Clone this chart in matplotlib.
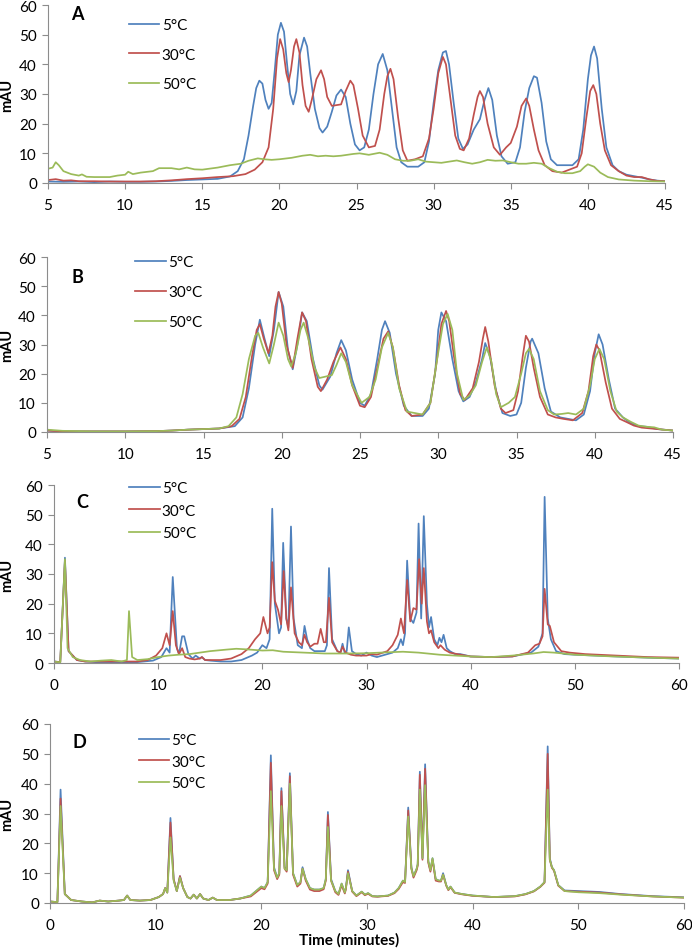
import numpy as np
import matplotlib
matplotlib.use("Agg")
import matplotlib.pyplot as plt

# ---- digitised traces (time in minutes, absorbance in mAU) ----
# panel A
A_5C = [(5,0.5),(6,0.4),(7,0.5),(8,0.3),(9,0.5),(10,0.4),(11,0.4),(12,0.5),(13,0.7),(14,1.0),(15,1.2),(16,1.4),
        (16.8,2.2),(17.3,4),(17.7,8),(18.0,16),(18.3,26),(18.5,32),(18.7,34.5),(18.9,33.5),(19.1,28),(19.3,25),
        (19.5,27),(19.7,38),(19.9,50),(20.1,54),(20.3,51),(20.5,40),(20.7,30),(20.9,26.5),(21.1,31),(21.3,43),
        (21.6,49),(21.8,46),(22.0,37),(22.3,25),(22.6,18.5),(22.8,17),(23.1,19),(23.4,24),(23.7,29.5),(24.0,31.5),
        (24.3,29),(24.6,20),(24.9,13),(25.2,11),(25.5,12),(25.8,18),(26.1,30),(26.4,40),(26.7,43.5),(27.0,38),
        (27.3,25),(27.6,12),(27.9,7),(28.3,5.5),(29.0,5.5),(29.4,7),(29.7,14),(30.0,27),(30.3,38),(30.6,44),
        (30.8,44.5),(31.0,40),(31.3,27),(31.6,15),(31.9,11.5),(32.2,13),(32.6,18),(33.0,21.5),(33.3,28),
        (33.55,32),(33.8,28),(34.1,16),(34.4,9),(34.8,6.5),(35.3,7),(35.6,12),(35.9,24),(36.2,32),(36.5,36),
        (36.7,35.5),(37.0,27),(37.3,14),(37.6,8),(38.0,6),(38.5,6),(39.0,6),(39.4,8),(39.7,18),(40.0,35),
        (40.2,43),(40.4,46),(40.6,42),(40.9,25),(41.2,12),(41.6,6),(42.0,4),(42.5,2.8),(43.0,2.3),(43.5,1.8),
        (44.0,1.2),(44.5,0.8),(45,0.6)]
A_30C = [(5,1.0),(5.5,1.3),(6,0.8),(6.5,0.9),(7,0.6),(8,0.6),(9,0.5),(10,0.5),(11,0.5),(12,0.6),(13,0.9),(14,1.3),
         (15,1.6),(16,2.0),(17,2.3),(17.8,3.0),(18.4,4.5),(18.9,7),(19.3,12),(19.6,25),(19.85,42),(20.05,48.5),
         (20.25,45),(20.45,37),(20.6,34),(20.75,38),(20.95,46),(21.1,48.5),(21.3,44),(21.5,33),(21.7,26),(21.9,24),
         (22.1,28),(22.4,35),(22.7,38),(22.9,35),(23.1,29),(23.4,26),(24.0,26.5),(24.3,31),(24.6,34.5),(24.8,33),
         (25.1,25),(25.4,16),(25.8,12),(26.2,12.5),(26.5,18),(26.8,30),(27.0,36),(27.2,38.5),(27.4,35),(27.7,22),
         (28.0,11),(28.3,7.5),(28.8,8),(29.3,9),(29.7,15),(30.0,25),(30.3,37),(30.6,42.5),(30.8,40),(31.1,28),
         (31.4,16),(31.7,11.5),(31.95,11),(32.3,15),(32.6,23),(32.85,29),(33.0,31),(33.2,29),(33.5,20),(33.9,12),
         (34.3,9.5),(34.7,12),(35.0,13.5),(35.4,19),(35.7,26),(36.0,28.5),(36.2,26),(36.5,18),(36.8,11),(37.2,6),
         (37.7,4),(38.3,3.5),(38.8,4.5),(39.3,5.5),(39.6,10),(39.9,22),(40.15,31),(40.35,33),(40.55,30),(40.8,20),
         (41.1,11),(41.5,6),(42.0,4),(42.5,2.5),(43.0,2.0),(43.5,2.0),(44.0,1.2),(44.5,0.7),(45,0.6)]
A_50C = [(5,4.8),(5.3,5.2),(5.5,7),(5.7,6),(6,4),(6.5,3),(7,2.5),(7.2,2.9),(7.5,2.1),(8,2.0),(9,2.0),(9.5,2.5),
         (10,2.8),(10.2,3.8),(10.5,3.0),(11,3.5),(11.8,4.0),(12.2,5.0),(13,5.0),(13.5,4.6),(14,5.2),(14.5,4.6),
         (15,4.5),(16,5.2),(16.8,6.0),(17.5,6.5),(18,7.5),(18.6,8.3),(19,8.0),(19.5,7.8),(20,8.0),(20.8,8.5),
         (21.5,9.2),(22,9.5),(22.5,9.0),(23,9.2),(23.5,9.0),(24,9.2),(24.8,9.8),(25.2,10.0),(25.8,9.5),(26.5,10.2),
         (27,9.5),(27.5,8.0),(28,7.5),(28.5,7.5),(29,8.0),(29.5,7.2),(30,7.0),(30.5,6.8),(31,7.2),(31.5,7.6),
         (32,7.0),(32.5,6.5),(33,7.0),(33.5,7.8),(34,7.5),(34.5,7.6),(35,7.0),(35.5,6.5),(36,6.5),(36.5,6.8),
         (37,6.5),(37.5,5.0),(38,3.8),(38.5,3.3),(39,3.3),(39.5,4.0),(39.8,5.5),(40,6.3),(40.4,5.5),(40.8,3.5),
         (41.3,2.0),(42,1.2),(43,0.8),(44,0.6),(45,0.5)]

# panel B
B_5C = [(5,0.5),(6,0.2),(8,0.2),(10,0.2),(12,0.3),(13,0.5),(14,0.8),(15,1.0),(16,1.2),(17,2.0),(17.5,5),(17.9,15),
        (18.3,30),(18.6,38.5),(18.9,32),(19.2,26),(19.5,35),(19.8,48),(20.1,43),(20.4,28),(20.7,21.5),(21.0,30),
        (21.3,41),(21.6,38),(22.0,25),(22.4,16),(22.6,14.5),(23.1,19),(23.5,27),(23.8,31.5),(24.1,28),(24.5,18),
        (25.0,10),(25.3,9),(25.7,13),(26.1,25),(26.4,35),(26.6,38),(26.9,34),(27.3,20),(27.8,9),(28.3,5.5),
        (29.0,5.5),(29.4,8),(29.8,20),(30.0,35),(30.2,41),(30.5,38),(30.9,25),(31.3,14),(31.6,10.5),(32.0,12),
        (32.4,17),(32.8,25),(33.0,30.5),(33.3,26),(33.7,14),(34.1,6.5),(34.6,5.5),(35.0,6),(35.3,10),(35.6,22),
        (35.9,31),(36.0,32),(36.4,27),(36.8,15),(37.2,7),(37.8,5),(38.3,4.5),(38.8,4),(39.3,6),(39.7,14),
        (40.0,27),(40.25,33.5),(40.5,30),(40.9,18),(41.3,8),(41.8,5),(42.3,3),(42.8,2),(43.3,1.8),(44,1.0),(45,0.5)]
B_30C = [(5,0.5),(6,0.2),(8,0.2),(10,0.2),(12,0.3),(13,0.5),(14,0.8),(15,1.0),(16,1.2),(16.8,2.0),(17.3,4.5),
         (17.7,12),(18.1,26),(18.4,35),(18.6,37),(18.85,32),(19.15,27),(19.4,33),(19.6,43),(19.8,48),(20.0,44),
         (20.3,30),(20.7,22),(21.0,32),(21.3,41),(21.55,38),(21.9,25),(22.3,15.5),(22.5,14),(22.9,18),(23.3,24),
         (23.75,29),(24.1,25),(24.5,16),(25.0,9),(25.3,8.5),(25.7,12),(26.1,22),(26.5,32),(26.8,34.5),(27.1,29),
         (27.5,16),(27.9,7.5),(28.3,5.5),(29.0,6),(29.5,10),(29.9,24),(30.2,37),(30.5,41.5),(30.7,38),(31.0,26),
         (31.4,13),(31.7,11),(32.2,15),(32.6,24),(32.85,32),(33.0,36),(33.2,31),(33.6,16),(34.0,8),(34.3,6.5),
         (34.8,7.5),(35.1,14),(35.4,26),(35.6,33),(35.8,31),(36.1,22),(36.5,12),(37.0,6),(37.5,5),(38.0,4.5),
         (38.6,4),(39.2,6.5),(39.6,14),(39.9,26),(40.1,30),(40.3,28),(40.7,17),(41.1,8),(41.6,4.5),(42.0,3.5),
         (42.5,2.2),(43.0,1.5),(44,1.0),(45,0.5)]
B_50C = [(5,0.8),(6,0.4),(8,0.2),(10,0.2),(12,0.3),(13,0.5),(14,0.8),(15,1.0),(16,1.2),(16.6,2.0),(17.1,5),
         (17.5,13),(17.9,25),(18.3,33),(18.5,34),(18.8,29),(19.2,23.5),(19.5,30),(19.8,37.5),(20.1,33),(20.4,25),
         (20.6,22.5),(20.9,27),(21.2,35),(21.4,37.5),(21.7,32),(22.1,22),(22.4,18.5),(22.8,19),(23.2,19.5),
         (23.5,23),(23.8,27),(24.1,24),(24.5,16),(25.1,10),(25.6,12),(26.0,18),(26.4,29),(26.8,34),(27.1,29),
         (27.5,15),(28.0,7),(28.5,6.5),(29.0,6),(29.5,10),(29.9,24),(30.3,37),(30.6,40.5),(30.9,35),(31.2,20),
         (31.6,11),(32.0,12.5),(32.4,16),(32.8,24),(33.1,29),(33.4,24),(33.7,13),(34.0,8.5),(34.5,10),(34.9,12),
         (35.3,20),(35.6,27),(35.8,28.5),(36.1,25),(36.5,14),(37.0,7.5),(37.4,6),(37.9,6.2),(38.3,6.5),(38.8,6),
         (39.3,8),(39.7,16),(40.0,25),(40.3,28.5),(40.6,25),(41.0,14),(41.4,7),(41.8,5),(42.3,3.5),(42.8,2.2),
         (43.3,1.8),(43.8,1.6),(44.3,0.8),(45,0.5)]

# panel C
C_5C = [(0,0.5),(0.6,0.3),(1.05,35.5),(1.4,4),(2.2,1),(3,0.5),(4,0.3),(6,0.3),(8,0.3),(9.5,0.8),(10.3,2),(10.8,5),
        (11.1,3.5),(11.4,29),(11.8,5),(12.0,3),(12.3,9),(12.5,9),(12.9,3),(13.3,1.5),(13.6,2.5),(14,1.5),(14.2,2),
        (14.5,1),(15,0.8),(16,0.5),(17,0.5),(18,1),(19,2.5),(19.5,3.5),(20.0,6),(20.4,5),(20.7,8),(20.95,52),
        (21.2,20),(21.6,10),(21.8,12),(22.0,40.5),(22.3,15),(22.5,12),(22.75,46),(23.0,15),(23.4,6),(23.8,5),
        (24.05,12.5),(24.3,8),(24.6,5),(25,4),(25.5,4),(26,4),(26.2,6),(26.4,32),(26.7,8),(27.2,4),(27.5,3.5),
        (27.7,6.5),(27.9,3.5),(28.1,4),(28.3,12),(28.6,4),(29,3),(29.5,2.5),(30,3.5),(30.5,2.5),(31,2),(31.5,2.5),
        (32,3),(32.5,3.5),(33,5),(33.3,8),(33.5,6),(33.7,10),(33.9,34.5),(34.2,15),(34.5,13.5),(34.8,17),(35.0,47),
        (35.25,15),(35.5,49.5),(35.8,20),(36.0,12),(36.2,15.5),(36.5,8),(36.8,6),(37.0,8.5),(37.2,7),(37.4,9.5),
        (37.7,5),(38,4),(38.5,3),(39,3),(40,2.2),(42,2),(44,2.2),(45.8,3.5),(46.5,5.5),(46.9,10),(47.1,56),
        (47.4,15),(47.7,8),(48.2,4),(49,3),(50,2.8),(52,2.5),(54,2.2),(57,1.8),(60,1.5)]
C_30C = [(0,0.5),(0.6,0.3),(1.05,34.5),(1.4,4),(2.2,1),(3,0.5),(5,0.5),(8,0.5),(9,1),(9.8,2.5),(10.4,5),(10.8,10),
         (11.1,6),(11.4,17.5),(11.7,6),(12,3),(12.3,5),(12.6,2),(13,1.5),(13.5,1.2),(14,1.5),(14.2,2),(14.5,1),
         (15,1),(16,1),(17,1.5),(18,3),(18.7,5),(19.3,8),(19.8,10),(20.1,15.5),(20.5,10),(20.7,12),(20.95,34),
         (21.2,21),(21.5,18),(21.8,13),(22.05,31),(22.3,15),(22.5,11),(22.75,25.5),(23.1,10),(23.5,7),(23.8,6),
         (24.05,9.5),(24.3,7),(24.6,5.5),(25,6.5),(25.3,6.5),(25.6,11.5),(25.9,7),(26.1,7),(26.4,22),(26.7,7),
         (27.2,4),(27.5,3.5),(27.7,5.5),(28,3.5),(28.5,2.8),(29,2.5),(30,2.5),(30.5,3),(31,2.8),(32,4),(32.5,6),
         (33.0,9.5),(33.3,15),(33.6,10),(33.9,28),(34.2,14),(34.5,18.5),(34.8,18),(35.05,35),(35.3,20),(35.5,32),
         (35.8,14),(36,10),(36.2,11),(36.5,7),(36.9,5),(37.1,6),(37.5,4.5),(38,3.5),(39,2.8),(40,2.2),(42,2),
         (44,2.2),(45.5,3.5),(46.2,6),(46.6,6.5),(46.9,9),(47.1,25),(47.4,13),(47.6,12.5),(48,7),(48.7,4),
         (49.5,3.5),(51,3),(54,2.5),(57,2),(60,1.8)]
C_50C = [(0,0.5),(0.6,0.2),(1.05,35),(1.3,5),(1.8,2),(2.5,1),(3.5,0.5),(4.5,0.8),(5.5,1),(6.5,0.5),(7.0,1),
         (7.2,17.5),(7.5,2),(8,1),(9,1.3),(10,2),(11,2.5),(12,2.8),(13,3),(14,3.5),(15,4),(16.5,4.5),(17.5,4.8),
         (18.5,4.6),(20,4.2),(21,4.3),(22,3.8),(24,3.5),(26,3.2),(28,3.2),(30,3.3),(32,3.6),(33.5,3.8),(35,3.5),
         (37,2.8),(40,2.2),(42,2),(44,2.5),(46,3.2),(47,3.7),(48,3.5),(50,2.8),(53,2.3),(57,1.8),(60,1.5)]

# panel D (the three runs share the same sampling times)
D_time = [0,0.7,1.0,1.4,2,3,4,4.7,5.5,6.5,7.0,7.3,7.6,8.5,9.5,10.3,10.7,10.9,11.1,11.4,11.7,12.0,12.3,12.6,13,13.3,
          13.6,13.9,14.2,14.5,15,15.4,15.8,17,18,19,19.5,20.0,20.3,20.6,20.9,21.2,21.5,21.7,21.9,22.2,22.4,22.7,
          23.0,23.4,23.7,23.9,24.2,24.6,25,25.5,25.9,26.1,26.3,26.6,27,27.3,27.6,27.9,28.0,28.2,28.6,29,29.5,29.8,
          30.1,30.5,31,32,32.6,33,33.4,33.6,33.9,34.2,34.4,34.7,34.8,35.0,35.25,35.5,35.8,36.0,36.2,36.5,36.8,37.0,
          37.2,37.5,37.7,37.9,38.3,39,40,42,44,45,45.8,46.4,46.8,47.1,47.3,47.5,47.7,48.1,48.7,50,52,54,57,60]
D_5C = [0.5,0.3,38,3,1,0.5,0.2,0.8,0.5,0.8,1,2.5,1,0.8,1,2,3,5,3.5,28.5,8,4,9,5,2,1.5,
        2.8,1.5,3,1.5,1,1.8,1,1,1.5,2.5,4,5.5,5,7,49.5,12,8.5,10,38.5,12,11,43.5,
        10,6,7,12,8,5,4.5,4.5,5,8,30.5,8,4,3,6.5,3.5,5,11,4,2.5,3.8,2.8,
        3.3,2.3,2.2,2.5,3.5,5,7.5,7,32,12,9,11.5,13,44,15,46.5,14,11,15,8,7.5,7.5,
        10,6,4.5,5.5,3.5,3,2.5,2,2.3,3,4,5.5,7,52.5,15,12,11,6,4.2,4,3.7,3,2.3,1.9]
D_30C = [0.5,0.3,35,3,1,0.5,0.2,0.8,0.5,0.8,1,2.5,1,0.8,1,2,3,5,3.5,27,8,4,9,5,2,1.5,
         2.8,1.5,3,1.5,1,1.8,1,1,1.5,2.2,3.6,5,4.6,6.5,47,11,8,9.5,37.5,11.5,10.5,42.5,
         9.5,5.5,6.5,11.5,7.5,4.5,4,4,4.6,7.5,29.5,7.5,3.6,2.7,6,3.2,4.6,10.5,3.8,2.3,3.6,2.6,
         3.1,2.2,2.1,2.4,3.3,4.7,7,6.7,31,11.5,8.5,11,12.5,43,14.5,45,13.5,10.5,14.5,7.5,7.2,7.2,
         9.5,5.8,4.3,5.3,3.4,2.9,2.4,2,2.2,2.9,3.9,5.4,6.8,50,14.5,11.8,10.8,5.8,4,3.8,3.5,2.9,2.2,1.8]
D_50C = [0.5,0.3,32.5,3,1,0.5,0.2,0.8,0.5,0.8,1,2.5,1,0.8,1,2,3,5,3.5,22,7.5,4,8.5,5,2,1.5,
         2.8,1.5,3,1.5,1,1.8,1,1,1.5,2.5,4,5.5,5,7,37.5,11.5,8.5,10,32.5,11.5,11,40,
         10,6,7,11.5,8,5,4.5,4.5,5,8,25.5,7.5,4,3,6.5,3.5,5,10,4,2.5,3.8,2.8,
         3.3,2.3,2.2,2.5,3.5,5,7.5,7,29,11.5,9,11.5,13,38,15,39.5,14,11,15,8,7.5,7.5,
         9.5,6,4.5,5.5,3.5,3,2.5,2,2.3,3,4,5.5,7,38,14.5,12,11,6,4,3.6,3.3,2.8,2.2,1.8]

labels = ["5°C", "30°C", "50°C"]
colors = ["#4F81BD", "#C0504D", "#9BBB59"]

plt.rcParams["font.family"] = ["Lato", "DejaVu Sans"]
plt.rcParams["font.size"] = 11

fig = plt.figure(figsize=(6.92, 9.53), dpi=100)
W, H = 692.0, 953.0


def add_panel(left, top, right, bottom):
    return fig.add_axes([left / W, 1 - bottom / H, (right - left) / W, (bottom - top) / H])


panels = [
    # letter, axes box (px), x range, x ticks, traces, legend anchor, legend spacing, letter pos
    ("A", (48, 6, 665, 184), (5, 45), range(5, 46, 5),
     [np.array(A_5C).T, np.array(A_30C).T, np.array(A_50C).T], (0.131, 0.925), 1.0, (0.047, 0.95)),
    ("B", (47, 258, 673, 433), (5, 45), range(5, 46, 5),
     [np.array(B_5C).T, np.array(B_30C).T, np.array(B_50C).T], (0.141, 1.01), 1.05, (0.048, 0.89)),
    ("C", (54, 486, 679, 664), (0, 60), range(0, 61, 10),
     [np.array(C_5C).T, np.array(C_30C).T, np.array(C_50C).T], (0.12, 1.02), 0.55, (0.045, 0.905)),
    ("D", (50, 725, 684, 904), (0, 60), range(0, 61, 10),
     [(D_time, D_5C), (D_time, D_30C), (D_time, D_50C)], (0.14, 0.95), 0.5, (0.046, 0.905)),
]

for letter, box, xr, xt, traces, leg_pos, leg_sp, let_pos in panels:
    ax = add_panel(*box)
    for (t, y), c, lab in zip(traces, colors, labels):
        ax.plot(t, y, color=c, lw=1.25, label=lab)
    ax.set_xlim(*xr)
    ax.set_ylim(0, 60)
    ax.set_xticks(list(xt))
    ax.set_yticks(range(0, 61, 10))
    for s in ["top", "right"]:
        ax.spines[s].set_visible(False)
    for s in ["left", "bottom"]:
        ax.spines[s].set_color("#8c8c8c")
        ax.spines[s].set_linewidth(0.8)
    ax.tick_params(axis="both", colors="#8c8c8c", labelcolor="black", length=4, width=0.8)
    ax.tick_params(axis="x", pad=7)
    ax.tick_params(axis="y", pad=4)
    ax.text(let_pos[0], let_pos[1], letter, transform=ax.transAxes, fontsize=13,
            fontweight="bold", ha="center", va="center")
    ax.legend(loc="upper left", bbox_to_anchor=leg_pos, frameon=False, handlelength=2.0,
              handletextpad=0.15, labelspacing=leg_sp, borderpad=0, borderaxespad=0)
    cy = 1 - (box[1] + box[3]) / 2 / H
    fig.text(7 / W, cy, "mAU", rotation=90, ha="center", va="center", fontweight="bold", fontsize=10.5)

fig.text(349 / W, 1 - 940 / H, "Time (minutes)", ha="center", va="center", fontweight="bold", fontsize=11)

fig.savefig("out.png", dpi=100)
